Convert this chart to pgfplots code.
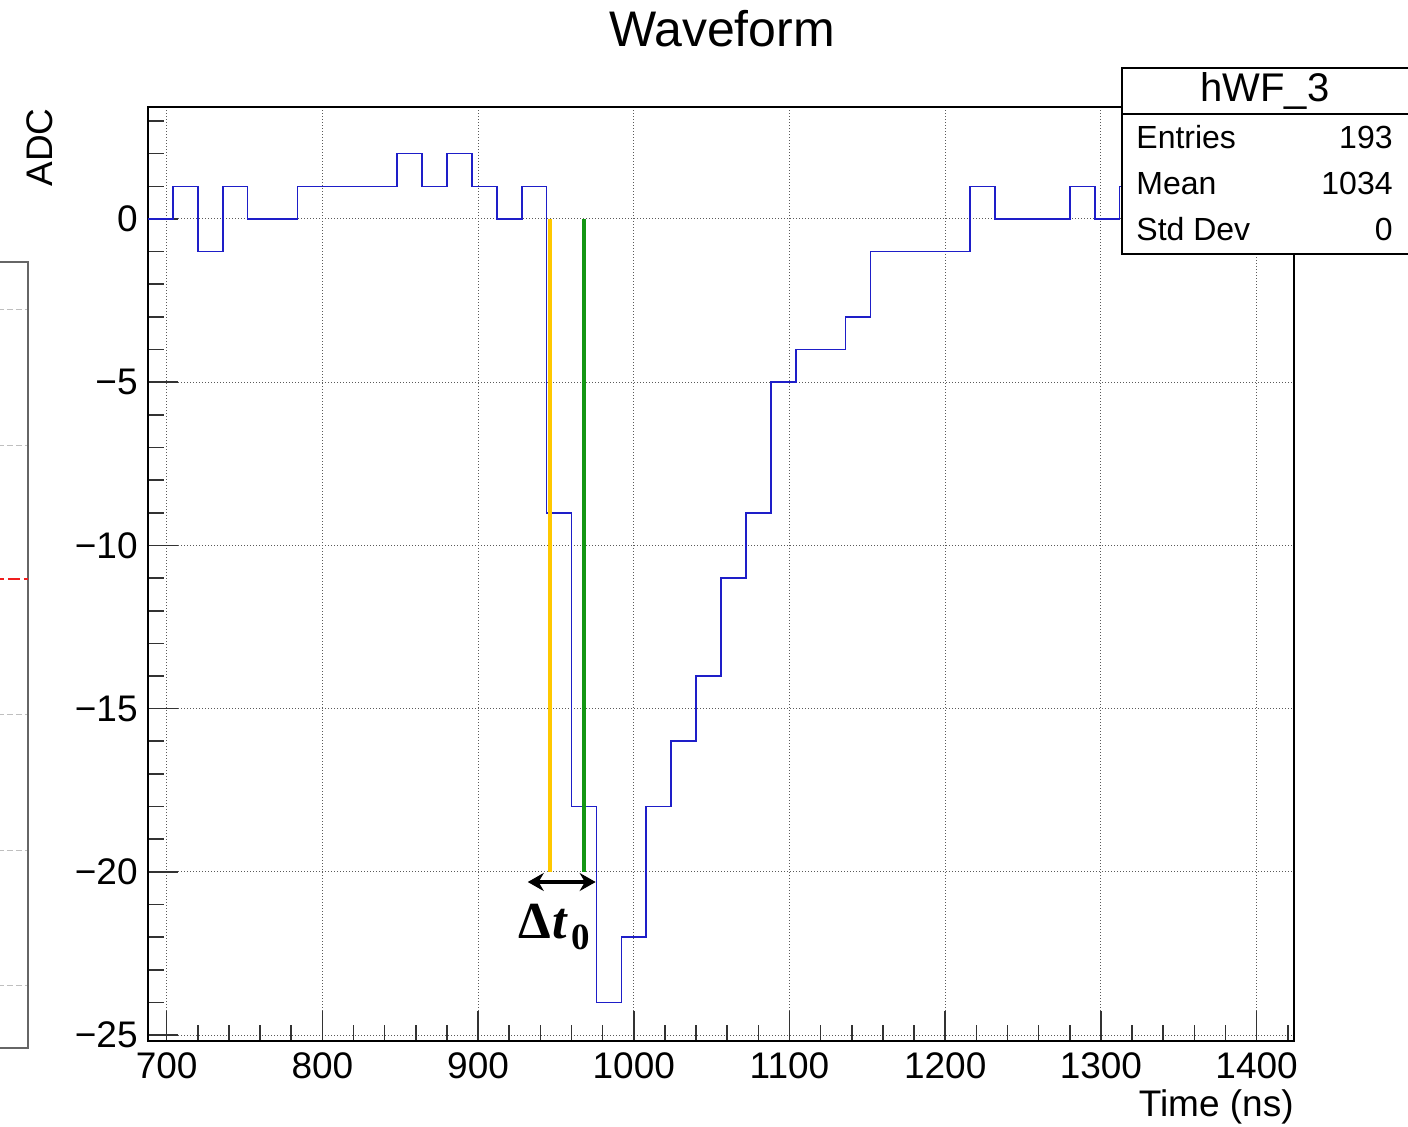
\documentclass[border=0pt]{standalone}
\usepackage{fontspec}
\setmainfont{Liberation Sans}
\newfontfamily\serifb{Liberation Serif}
\usepackage{pgfplots}
\pgfplotsset{compat=1.18}
\usetikzlibrary{arrows.meta}
\definecolor{histblue}{RGB}{30,30,200}
\definecolor{tyellow}{RGB}{255,200,0}
\definecolor{tgreen}{RGB}{20,150,20}
\definecolor{gridgray}{RGB}{90,90,90}
\definecolor{dashred}{RGB}{240,30,30}
\newcommand{\fs}[1]{\fontsize{#1pt}{#1pt}\selectfont}
\begin{document}
\begin{tikzpicture}
\useasboundingbox (0,0) rectangle (704pt,563.5pt);
\clip (0,0) rectangle (704pt,563.5pt);

% partial neighbouring panel on the left
\begin{axis}[at={(-100pt,39.5pt)}, anchor=south west, scale only axis,
  width=114pt, height=393pt, xmin=0, xmax=1, ymin=0, ymax=1,
  xtick=\empty, ytick={0.079,0.2515,0.424,0.767,0.9395}, yticklabels={},
  major tick length=0pt, ymajorgrids,
  major grid style={black!25, line width=0.6pt, dash pattern=on 3pt off 1.5pt},
  axis line style={black!60, line width=1.3pt}]
\addplot[dashred, line width=1.2pt, dash pattern=on 6pt off 2pt, no marks] coordinates {(0,0.5967) (1,0.5967)};
\end{axis}

% main axis
\begin{axis}[at={(74pt,43pt)}, anchor=south west, scale only axis,
  width=573pt, height=467pt,
  xmin=688, xmax=1424, ymin=-25.18, ymax=3.43,
  xtick={700,800,...,1400}, xticklabels={700,800,900,1000,1100,1200,1300,1400},
  minor xtick={720,740,...,1420},
  ytick={-25,-20,...,0}, yticklabels={−25,−20,−15,−10,−5,0},
  minor ytick={-24,...,3},
  xtick pos=bottom, ytick pos=left, tick align=inside,
  major tick length=15pt, minor tick length=8pt,
  tick style={black!80, line width=0.8pt},
  grid=major, major grid style={gridgray, line width=0.5pt, dash pattern=on 0.5pt off 1pt},
  axis line style={black, line width=0.9pt},
  tick label style={font=\fs{18.5}},
  xticklabel style={inner sep=0pt, anchor=north, yshift=-5.5pt},
  yticklabel style={inner sep=0pt, anchor=east, xshift=-5pt}]
\addplot[const plot, histblue, line width=0.8pt, no marks] coordinates {
(688,0) (704,1) (720,-1) (736,1) (752,0) (768,0) (784,1) (800,1) (816,1) (832,1)
(848,2) (864,1) (880,2) (896,1) (912,0) (928,1) (944,-9) (960,-18) (976,-24) (992,-22)
(1008,-18) (1024,-16) (1040,-14) (1056,-11) (1072,-9) (1088,-5) (1104,-4) (1120,-4) (1136,-3) (1152,-1)
(1168,-1) (1184,-1) (1200,-1) (1216,1) (1232,0) (1248,0) (1264,0) (1280,1) (1296,0) (1312,1)
(1328,0) (1344,1) (1360,0) (1376,0) (1392,1) (1408,0) (1424,0)};
\addplot[tyellow, line width=2pt, no marks] coordinates {(946.3,0) (946.3,-20)};
\addplot[tgreen, line width=2pt, no marks] coordinates {(967.8,0) (967.8,-20)};
\addplot[black, line width=2pt, no marks, {Stealth[length=8pt,width=9pt]}-{Stealth[length=8pt,width=9pt]}] coordinates {(931.9,-20.31) (975.5,-20.31)};
\node[anchor=base west, inner sep=0pt] at (axis cs:925.4,-22.03)
  {\serifb\bfseries\fs{26}Δ\kern1pt\textit{t}\kern1.5pt\raisebox{-5.5pt}{\fs{18.5}0}};
\end{axis}

% titles and labels
\node[anchor=base, inner sep=0pt] at (361pt,540pt) {\fs{25}Waveform};
\node[anchor=base east, rotate=90, inner sep=0pt] at (26pt,509.5pt) {\fs{18.5}ADC};
\node[anchor=base east, inner sep=0pt] at (647pt,5pt) {\fs{18.5}Time (ns)};

% statistics box
\filldraw[fill=white, draw=black, line width=0.9pt] (561pt,436.5pt) rectangle (706pt,529.5pt);
\draw[black, line width=0.9pt] (561pt,506.5pt) -- (706pt,506.5pt);
\node[anchor=base, inner sep=0pt] at (632.5pt,512.6pt) {\fs{20}hWF\_3};
\node[anchor=base west, inner sep=0pt] at (568pt,489pt) {\fs{16}Entries};
\node[anchor=base east, inner sep=0pt] at (696.5pt,489pt) {\fs{16}193};
\node[anchor=base west, inner sep=0pt] at (568pt,466pt) {\fs{16}Mean};
\node[anchor=base east, inner sep=0pt] at (696.5pt,466pt) {\fs{16}1034};
\node[anchor=base west, inner sep=0pt] at (568pt,443pt) {\fs{16}Std Dev};
\node[anchor=base east, inner sep=0pt] at (696.5pt,443pt) {\fs{16}0};
\end{tikzpicture}
\end{document}
